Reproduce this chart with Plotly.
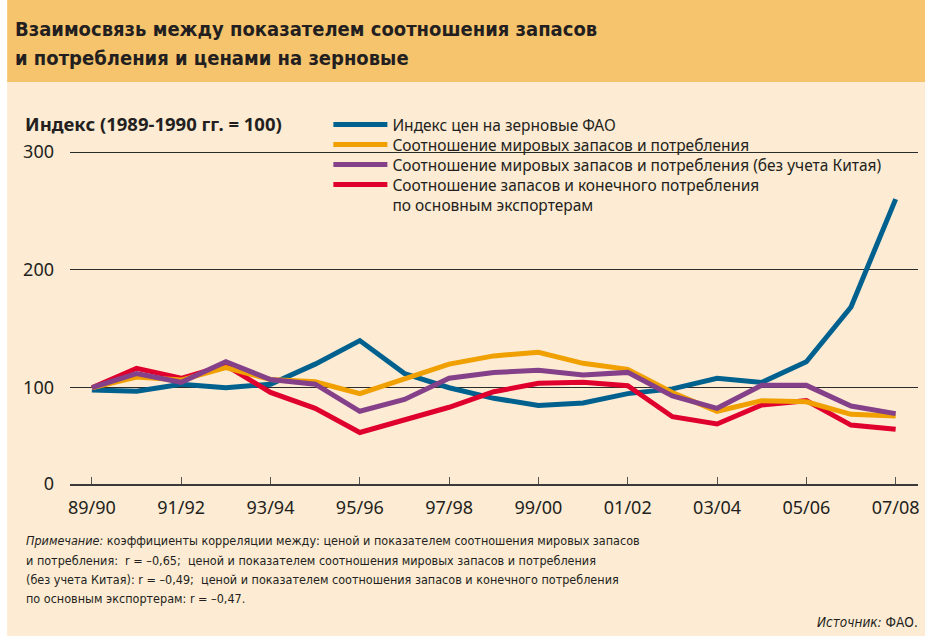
import plotly.graph_objects as go

# ---------------- data ----------------
seasons = ["89/90", "90/91", "91/92", "92/93", "93/94", "94/95", "95/96", "96/97",
           "97/98", "98/99", "99/00", "00/01", "01/02", "02/03", "03/04", "04/05",
           "05/06", "06/07", "07/08"]
fao_price_index = [98, 97, 103, 100, 103, 120, 140, 112, 100, 91, 85, 87, 95, 99,
                   108, 104.5, 122, 168.5, 260]
world_stocks_use = [100, 109, 106.5, 117, 107, 105, 95, 107, 120, 127, 130, 120.7,
                    115.6, 96, 80, 89, 88, 77.4, 76]
world_ex_china = [100, 112, 104.6, 122, 107, 103, 80, 90, 108, 113, 114.8, 110.8,
                  113, 93, 82.5, 102, 102, 84.5, 78]
exporters_ratio = [100, 116.5, 108, 119, 96, 82.5, 62, 72.6, 83.4, 96.6, 103.7,
                   104.6, 101.7, 75.4, 69.2, 85.3, 89, 68.3, 64.7]

series_names = [
    "Индекс цен на зерновые ФАО",
    "Соотношение мировых запасов и потребления",
    "Соотношение мировых запасов и потребления (без учета Китая)",
    "Соотношение запасов и конечного потребления<br>по основным экспортерам",
]
x_tick_labels = seasons[::2]
y_tick_text = ["0", "100", "200", "300"]
y_base = 18.3  # value where the drawn baseline sits (labelled "0" in the source)
y_tick_vals = [y_base, 100, 200, 300]

# ---------------- layout helpers ----------------
W, H = 926, 639
PL, PR, PT, PB = 70, 920, 140, 484   # plot area in pixels


def px_x(p):
    return (p - PL) / (PR - PL)


def px_y(p):
    return (PB - p) / (PB - PT)


BEIGE = "#FDEBD3"
HEADER = "#F6C46C"
TXT = "#231F20"
colors = ["#00618F", "#F0A000", "#85408A", "#E0002D"]
legend_ids = ["legend", "legend2", "legend3", "legend4"]
legend_rows = [125, 145, 165, 185]        # pixel centres of legend rows
draw_order = [0, 3, 1, 2]
series = [fao_price_index, world_stocks_use, world_ex_china, exporters_ratio]

fig = go.Figure()
for i in draw_order:
    fig.add_trace(go.Scatter(
        x=seasons, y=series[i], mode="lines", name=series_names[i],
        line=dict(color=colors[i], width=5), legend=legend_ids[i],
    ))

legend_font = dict(family="Noto Sans, sans-serif", size=15.5, color=TXT)
legend_layout = {}
for i, lid in enumerate(legend_ids):
    legend_layout[lid] = dict(
        x=px_x(329), y=px_y(legend_rows[i] - 17), xanchor="left", yanchor="top",
        bgcolor="rgba(0,0,0,0)", borderwidth=0, itemwidth=54,
        font=legend_font, valign="top",
    )

fig.update_layout(
    width=W, height=H,
    margin=dict(l=PL, r=W - PR, t=PT, b=H - PB, pad=0),
    paper_bgcolor="white",
    plot_bgcolor="rgba(0,0,0,0)",
    font=dict(family="Noto Sans, sans-serif", color=TXT),
    showlegend=True,
    xaxis=dict(
        type="category", range=[-0.49, 18.5],
        tickmode="array", tickvals=x_tick_labels, ticktext=x_tick_labels,
        showgrid=False, zeroline=False,
        showline=True, linecolor="#3A3A3A", linewidth=1.5,
        ticks="inside", ticklen=7, tickwidth=1, tickcolor="#555555",
        ticklabelstandoff=7,
        tickfont=dict(size=18, color=TXT),
    ),
    yaxis=dict(
        range=[y_base, 310.2], tickmode="array",
        tickvals=y_tick_vals, ticktext=y_tick_text,
        showgrid=True, gridcolor="#2B2B2B", gridwidth=1,
        zeroline=False, showline=False, ticks="",
        ticklabelstandoff=15,
        tickfont=dict(size=18, color=TXT),
    ),
    shapes=[
        dict(type="rect", xref="paper", yref="paper", layer="below",
             x0=px_x(7), x1=px_x(927), y0=px_y(82), y1=px_y(636),
             fillcolor=BEIGE, line=dict(width=0)),
        dict(type="rect", xref="paper", yref="paper", layer="below",
             x0=px_x(7), x1=px_x(927), y0=px_y(-1), y1=px_y(82),
             fillcolor=HEADER, line=dict(width=0)),
        # background behind the legend block (hides the gridline there)
        dict(type="rect", xref="paper", yref="paper", layer="between",
             x0=px_x(312), x1=px_x(889), y0=px_y(146), y1=px_y(158),
             fillcolor=BEIGE, line=dict(width=0)),
    ],
    **legend_layout,
)

title_font = dict(family="DejaVu Sans Condensed, sans-serif", size=20, color=TXT)
note_font = dict(family="DejaVu Sans Condensed, sans-serif", size=12.5, color=TXT)

note_lines = [
    "<i>Примечание:</i> коэффициенты корреляции между: ценой и показателем соотношения мировых запасов",
    "и потребления:  r = –0,65;  ценой и показателем соотношения мировых запасов и потребления",
    "(без учета Китая): r = –0,49;  ценой и показателем соотношения запасов и конечного потребления",
    "по основным экспортерам: r = –0,47.",
]
note_rows = [540, 560, 579, 598]

annotations = [
    dict(text="<b>Взаимосвязь между показателем соотношения запасов</b>",
         x=px_x(13), y=px_y(29), xanchor="left", yanchor="middle", font=title_font),
    dict(text="<b>и потребления и ценами на зерновые</b>",
         x=px_x(13), y=px_y(58), xanchor="left", yanchor="middle", font=title_font),
    dict(text="<b>Индекс (1989-1990 гг. = 100)</b>",
         x=px_x(23), y=px_y(124), xanchor="left", yanchor="middle",
         font=dict(family="Noto Sans, sans-serif", size=18.5, color=TXT)),
    dict(text="<i>Источник:</i> ФАО.",
         x=px_x(922), y=px_y(622), xanchor="right", yanchor="middle",
         font=dict(family="DejaVu Sans Condensed, sans-serif", size=13.5, color=TXT)),
]
for line, row in zip(note_lines, note_rows):
    annotations.append(dict(text=line, x=px_x(24), y=px_y(row), xanchor="left",
                            yanchor="middle", align="left", font=note_font))
for a in annotations:
    a.update(xref="paper", yref="paper", showarrow=False)
fig.update_layout(annotations=annotations)

fig.write_html("out.html", config={"displayModeBar": False},
               post_script="document.body.style.margin='0';")
